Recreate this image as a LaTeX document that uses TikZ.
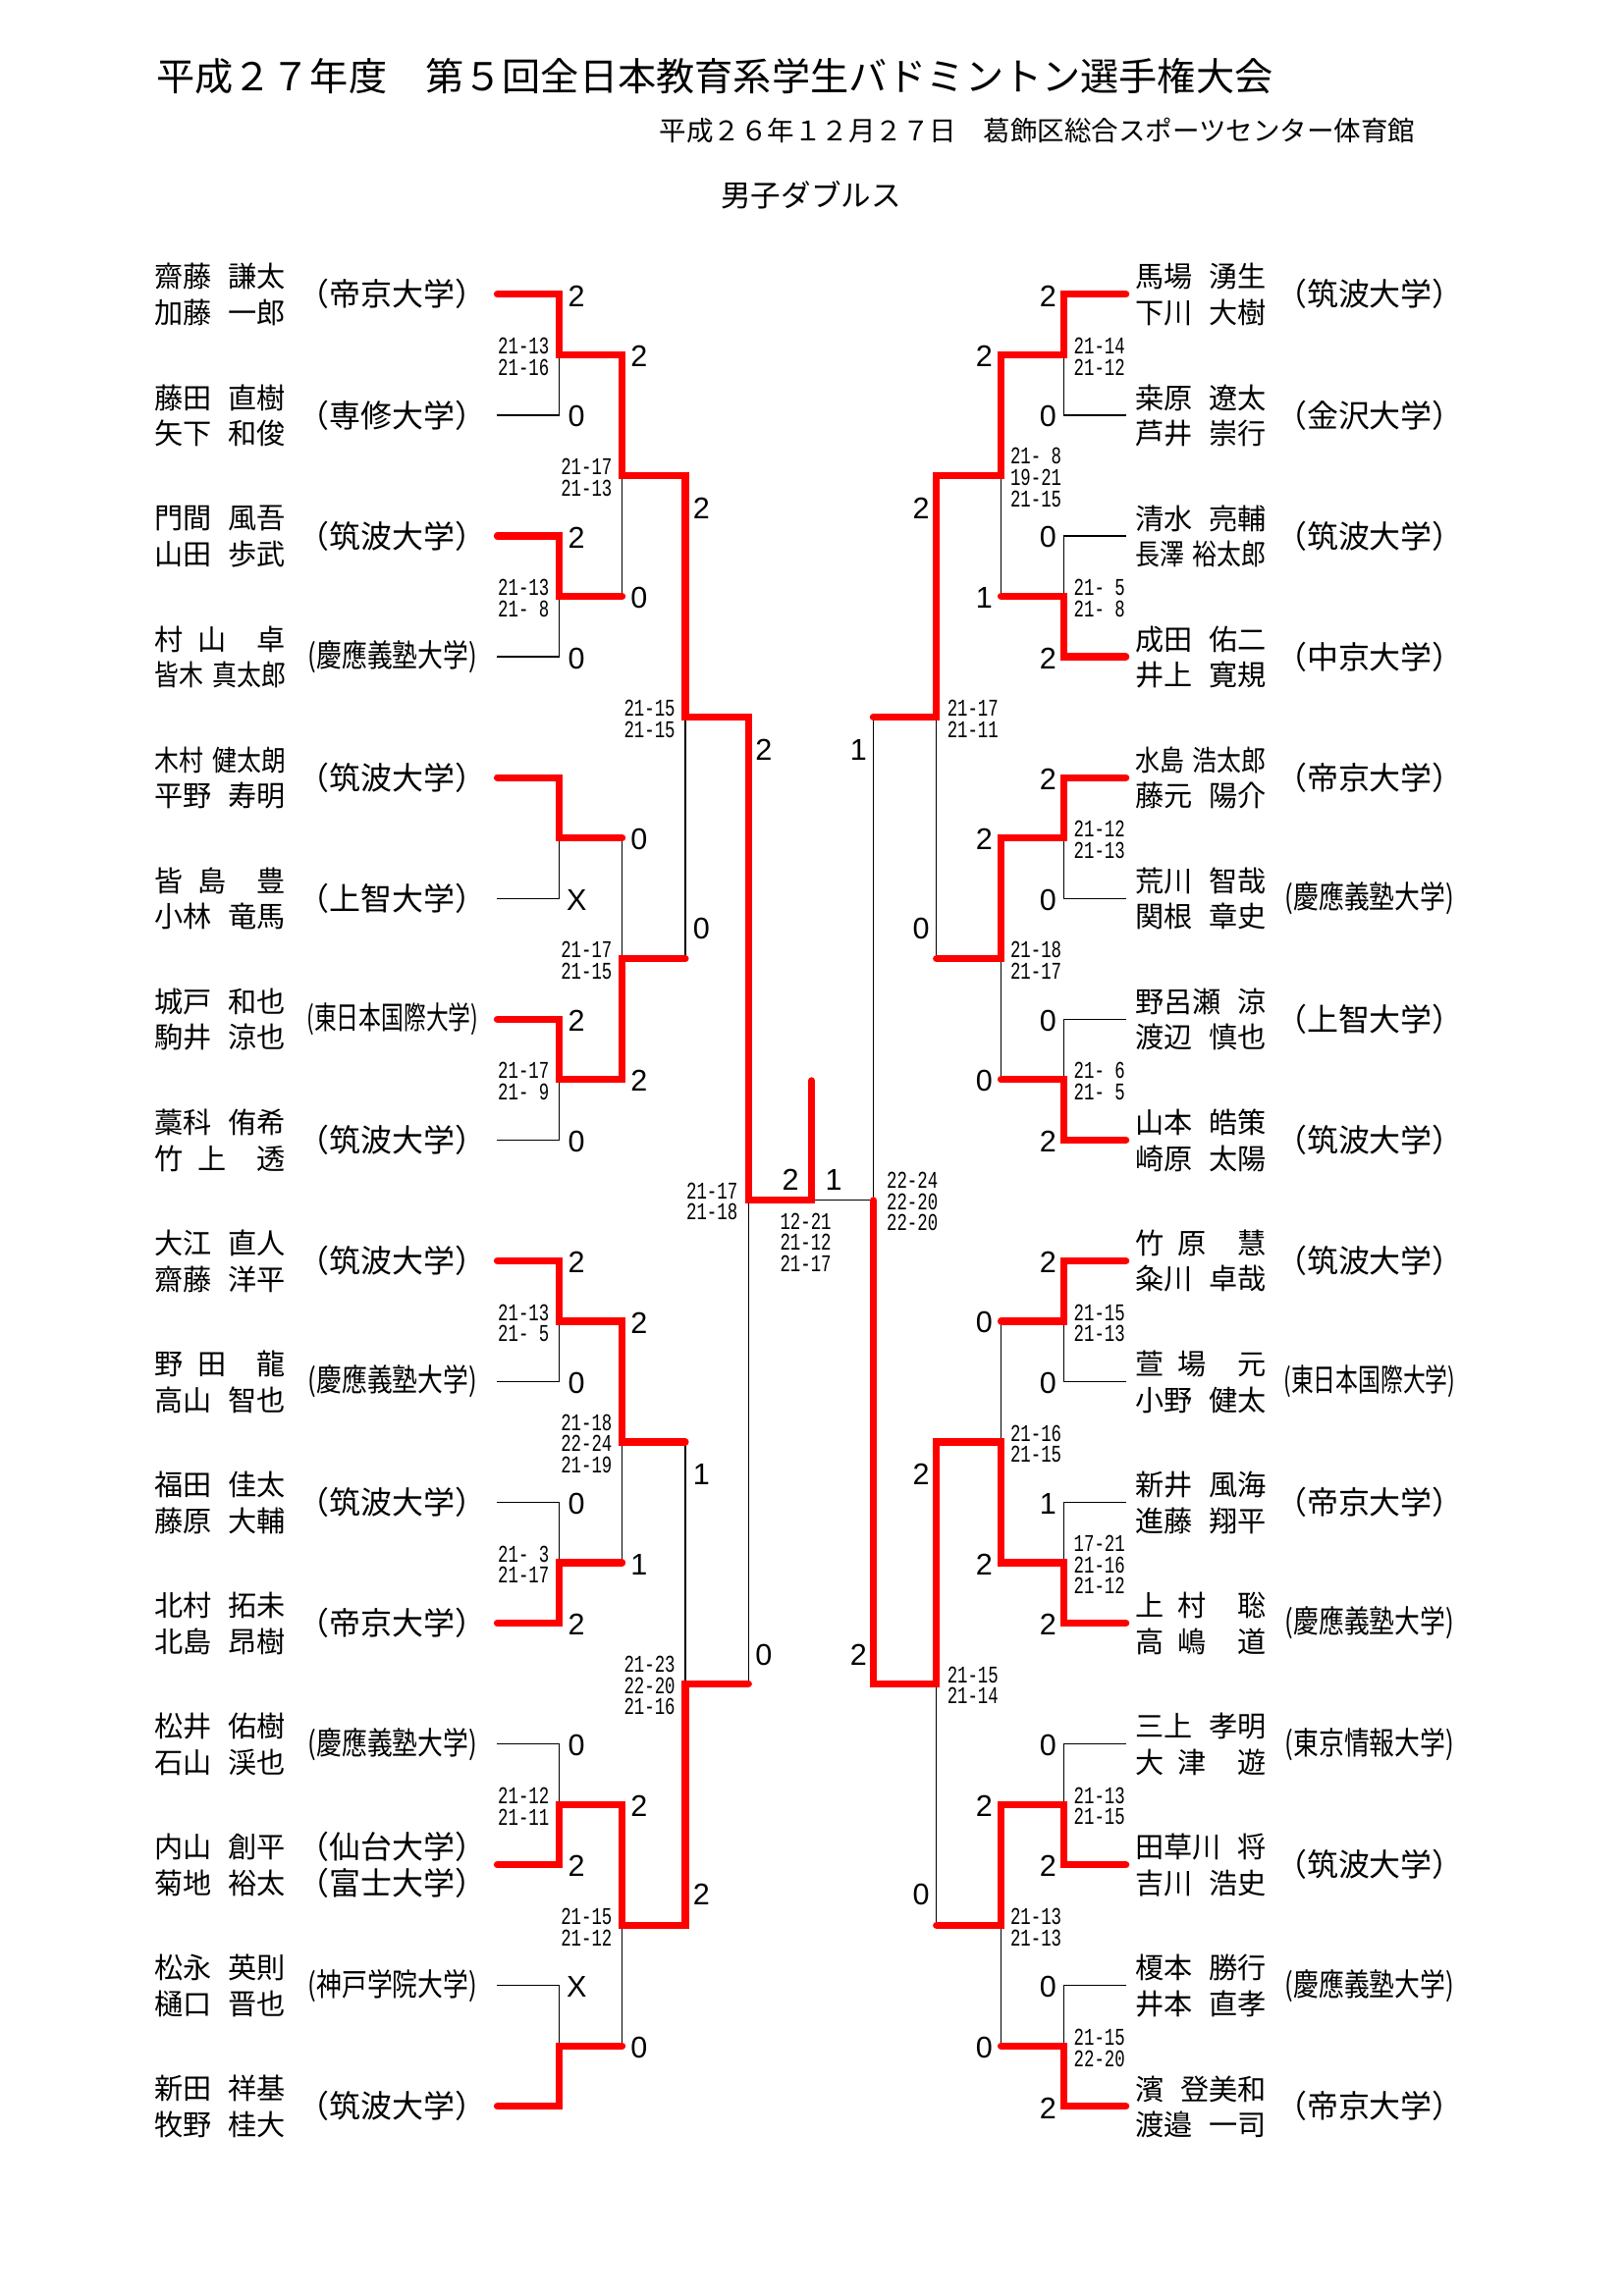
\documentclass[tikz,border=0pt]{standalone}
\usepackage{fontspec}
\usepackage{graphicx}
\newfontfamily\jp{Noto Sans CJK JP}
\newfontfamily\arl{Liberation Sans}
\newfontfamily\scf[FakeStretch=0.71]{Liberation Mono}
\newcommand\nm[2]{\makebox[48pt]{#1\hfill#2}}
\newcommand\nmc[2]{\resizebox{48pt}{\height}{#1\hspace{0.35em}#2}}
\newcommand\gp{\hspace{0.5em}}
\newcommand\un[1]{（#1）}
\newcommand\unc[2][62pt]{\resizebox{#1}{\height}{(#2)}}
\newcommand\zz{\phantom{0}}
\newcommand\LT[4]{%
  \pgfmathsetmacro\ty{201+82.5*(#1-1)}%
  \node[nmst] (lna#1) at (107.5,\ty-12) {#2};%
  \node[nmst] (lnb#1) at (107.5,\ty+12.5) {#3};%
  \node[unst] (lu#1) at (269.7,\ty) {#4};%
}
\newcommand\RT[4]{%
  \pgfmathsetmacro\ty{201+82.5*(#1-1)}%
  \node[nmst] (rna#1) at (775,\ty-12) {#2};%
  \node[nmst] (rnb#1) at (775,\ty+12.5) {#3};%
  \node[unst] (ru#1) at (935,\ty) {#4};%
}
\begin{document}
\begin{tikzpicture}[x=0.5384pt,y=-0.53692pt,
  rd/.style={draw=red,line width=2.6pt,line cap=round,line join=miter},
  bk/.style={draw=black,line width=0.45pt},
  lab/.style={font=\arl\fontsize{11}{12}\selectfont,inner sep=0pt},
  scl/.style={font=\scf\fontsize{8.8}{7.8}\selectfont,inner sep=0pt,align=right,anchor=east},
  scr/.style={font=\scf\fontsize{8.8}{7.8}\selectfont,inner sep=0pt,align=left,anchor=west},
  scc/.style={font=\scf\fontsize{8.8}{7.8}\selectfont,inner sep=0pt,align=center},
  nmst/.style={font=\jp\fontsize{10.5}{12}\selectfont,inner sep=0pt,anchor=west},
  unst/.style={font=\jp\fontsize{11.5}{13}\selectfont,inner sep=0pt},
  ttl/.style={font=\jp\fontsize{14.1}{16}\selectfont,inner sep=0pt,anchor=west},
  sub/.style={font=\jp\fontsize{9.9}{12}\selectfont,inner sep=0pt,anchor=west},
  evt/.style={font=\jp\fontsize{11}{13}\selectfont,inner sep=0pt,anchor=west},
]
\fill[white] (2.41,0) rectangle (1108.06,1568.0);
\useasboundingbox (2.41,0) rectangle (1108.06,1568.0);

% ---------- headings
\node[ttl] (title) at (108.5,51.9) {平成２７年度　第５回全日本教育系学生バドミントン選手権大会};
\node[sub] (date) at (451,89) {平成２６年１２月２７日　葛飾区総合スポーツセンター体育館};
\node[evt] (event) at (493,133) {男子ダブルス};

% ---------- coordinates
\foreach \i in {1,...,16}{
  \pgfmathsetmacro\ty{201+82.5*(\i-1)}
  \coordinate (L0-\i) at (341,\ty);
  \coordinate (L1-\i) at (383,\ty);
  \coordinate (R0-\i) at (769,\ty);
  \coordinate (R1-\i) at (727,\ty);
}
\foreach \k in {1,...,8}{
  \pgfmathsetmacro\ty{242.25+165*(\k-1)}
  \coordinate (L1j-\k) at (383,\ty);
  \coordinate (L2-\k) at (426,\ty);
  \coordinate (R1j-\k) at (727,\ty);
  \coordinate (R2-\k) at (684,\ty);
}
\foreach \m in {1,...,4}{
  \pgfmathsetmacro\ty{324.75+330*(\m-1)}
  \coordinate (L2j-\m) at (426,\ty);
  \coordinate (L3-\m) at (469,\ty);
  \coordinate (R2j-\m) at (684,\ty);
  \coordinate (R3-\m) at (640,\ty);
}
\foreach \n in {1,2}{
  \pgfmathsetmacro\ty{489.75+660*(\n-1)}
  \coordinate (L3j-\n) at (469,\ty);
  \coordinate (L4-\n) at (512,\ty);
  \coordinate (R3j-\n) at (640,\ty);
  \coordinate (R4-\n) at (597,\ty);
}
\coordinate (L4j) at (512,819.75);
\coordinate (R4j) at (597,819.75);
\coordinate (F) at (555,819.75);
\coordinate (Fup) at (555,738);

% ---------- thin (losing) lines
\draw[bk] (L0-2)--(L1-2)--(L1j-1);
\draw[bk] (L0-4)--(L1-4)--(L1j-2);
\draw[bk] (L0-6)--(L1-6)--(L1j-3);
\draw[bk] (L0-8)--(L1-8)--(L1j-4);
\draw[bk] (L0-10)--(L1-10)--(L1j-5);
\draw[bk] (L0-11)--(L1-11)--(L1j-6);
\draw[bk] (L0-13)--(L1-13)--(L1j-7);
\draw[bk] (L0-15)--(L1-15)--(L1j-8);
\draw[bk] (L2-2)--(L2j-1);
\draw[bk] (L2-3)--(L2j-2);
\draw[bk] (L2-6)--(L2j-3);
\draw[bk] (L2-8)--(L2j-4);
\draw[bk] (L3-2)--(L3j-1);
\draw[bk] (L3-3)--(L3j-2);
\draw[bk] (L4-2)--(L4j);

\draw[bk] (R0-2)--(R1-2)--(R1j-1);
\draw[bk] (R0-3)--(R1-3)--(R1j-2);
\draw[bk] (R0-6)--(R1-6)--(R1j-3);
\draw[bk] (R0-7)--(R1-7)--(R1j-4);
\draw[bk] (R0-10)--(R1-10)--(R1j-5);
\draw[bk] (R0-11)--(R1-11)--(R1j-6);
\draw[bk] (R0-13)--(R1-13)--(R1j-7);
\draw[bk] (R0-15)--(R1-15)--(R1j-8);
\draw[bk] (R2-2)--(R2j-1);
\draw[bk] (R2-4)--(R2j-2);
\draw[bk] (R2-5)--(R2j-3);
\draw[bk] (R2-8)--(R2j-4);
\draw[bk] (R3-2)--(R3j-1);
\draw[bk] (R3-4)--(R3j-2);
\draw[bk] (R4-1)--(R4j);
\draw[bk] (R4j)--(F);

% ---------- red (winning) lines
\draw[rd] (L0-1)--(L1-1)--(L1j-1)--(L2-1)--(L2j-1)--(L3-1)--(L3j-1)--(L4-1)--(L4j)--(F)--(Fup);
\draw[rd] (L0-3)--(L1-3)--(L1j-2)--(L2-2);
\draw[rd] (L0-5)--(L1-5)--(L1j-3)--(L2-3);
\draw[rd] (L0-7)--(L1-7)--(L1j-4)--(L2-4)--(L2j-2)--(L3-2);
\draw[rd] (L0-9)--(L1-9)--(L1j-5)--(L2-5)--(L2j-3)--(L3-3);
\draw[rd] (L0-12)--(L1-12)--(L1j-6)--(L2-6);
\draw[rd] (L0-14)--(L1-14)--(L1j-7)--(L2-7)--(L2j-4)--(L3-4)--(L3j-2)--(L4-2);
\draw[rd] (L0-16)--(L1-16)--(L1j-8)--(L2-8);

\draw[rd] (R0-1)--(R1-1)--(R1j-1)--(R2-1)--(R2j-1)--(R3-1)--(R3j-1)--(R4-1);
\draw[rd] (R0-4)--(R1-4)--(R1j-2)--(R2-2);
\draw[rd] (R0-5)--(R1-5)--(R1j-3)--(R2-3)--(R2j-2)--(R3-2);
\draw[rd] (R0-8)--(R1-8)--(R1j-4)--(R2-4);
\draw[rd] (R0-9)--(R1-9)--(R1j-5)--(R2-5);
\draw[rd] (R0-12)--(R1-12)--(R1j-6)--(R2-6)--(R2j-3)--(R3-3)--(R3j-2)--(R4-2)--(R4j);
\draw[rd] (R0-14)--(R1-14)--(R1j-7)--(R2-7)--(R2j-4)--(R3-4);
\draw[rd] (R0-16)--(R1-16)--(R1j-8)--(R2-8);

% ---------- result labels
\foreach \i/\v in {1/2,2/0,3/2,4/0,6/X,7/2,8/0,9/2,10/0,11/0,12/2,13/0,14/2,15/X}{
  \pgfmathsetmacro\ty{202+82.5*(\i-1)}
  \node[lab] (la1-\i) at (395,\ty) {\v};
}
\foreach \i/\v in {1/2,2/0,3/0,4/2,5/2,6/0,7/0,8/2,9/2,10/0,11/1,12/2,13/0,14/2,15/0,16/2}{
  \pgfmathsetmacro\ty{202+82.5*(\i-1)}
  \node[lab] (ra1-\i) at (716,\ty) {\v};
}
\foreach \k/\v in {1/2,2/0,3/0,4/2,5/2,6/1,7/2,8/0}{
  \pgfmathsetmacro\ty{243.25+165*(\k-1)}
  \node[lab] (la2-\k) at (437.5,\ty) {\v};
}
\foreach \k/\v in {1/2,2/1,3/2,4/0,5/0,6/2,7/2,8/0}{
  \pgfmathsetmacro\ty{243.25+165*(\k-1)}
  \node[lab] (ra2-\k) at (672.5,\ty) {\v};
}
\node[lab] (la3-1) at (480,347) {2};
\node[lab] (la3-2) at (480,634) {0};
\node[lab] (la3-3) at (480,1007) {1};
\node[lab] (la3-4) at (480,1294) {2};
\node[lab] (ra3-1) at (629.5,347) {2};
\node[lab] (ra3-2) at (629.5,634) {0};
\node[lab] (ra3-3) at (629.5,1007) {2};
\node[lab] (ra3-4) at (629.5,1294) {0};
\node[lab] (la4-1) at (522.5,512) {2};
\node[lab] (la4-2) at (522.5,1130) {0};
\node[lab] (ra4-1) at (587,512) {1};
\node[lab] (ra4-2) at (587,1130) {2};
\node[lab] (fl) at (540.6,805.5) {2};
\node[lab] (fr) at (570,805.5) {1};

% ---------- game scores
\node[scl] (sl1-1) at (376.7,243.5) {21-13\\21-16};
\node[scl] (sl1-2) at (376.7,408.5) {21-13\\21-\zz8};
\node[scl] (sl1-4) at (376.7,738.5) {21-17\\21-\zz9};
\node[scl] (sl1-5) at (376.7,903.5) {21-13\\21-\zz5};
\node[scl] (sl1-6) at (376.7,1068.5) {21-\zz3\\21-17};
\node[scl] (sl1-7) at (376.7,1233.5) {21-12\\21-11};
\node[scl] (sl2-1) at (419.5,326) {21-17\\21-13};
\node[scl] (sl2-2) at (419.5,656) {21-17\\21-15};
\node[scl] (sl2-3) at (419.5,986) {21-18\\22-24\\21-19};
\node[scl] (sl2-4) at (419.5,1316) {21-15\\21-12};
\node[scl] (sl3-1) at (462.5,491) {21-15\\21-15};
\node[scl] (sl3-2) at (462.5,1151) {21-23\\22-20\\21-16};
\node[scl] (sl4) at (505,820.5) {21-17\\21-18};
\node[scc] (sfin) at (551,848.5) {12-21\\21-12\\21-17};

\node[scr] (sr1-1) at (733.2,243.5) {21-14\\21-12};
\node[scr] (sr1-2) at (733.2,408.5) {21-\zz5\\21-\zz8};
\node[scr] (sr1-3) at (733.2,573.5) {21-12\\21-13};
\node[scr] (sr1-4) at (733.2,738.5) {21-\zz6\\21-\zz5};
\node[scr] (sr1-5) at (733.2,903.5) {21-15\\21-13};
\node[scr] (sr1-6) at (733.2,1068.5) {17-21\\21-16\\21-12};
\node[scr] (sr1-7) at (733.2,1233.5) {21-13\\21-15};
\node[scr] (sr1-8) at (733.2,1398.5) {21-15\\22-20};
\node[scr] (sr2-1) at (690,326) {21-\zz8\\19-21\\21-15};
\node[scr] (sr2-2) at (690,656) {21-18\\21-17};
\node[scr] (sr2-3) at (690,986) {21-16\\21-15};
\node[scr] (sr2-4) at (690,1316) {21-13\\21-13};
\node[scr] (sr3-1) at (647,491) {21-17\\21-11};
\node[scr] (sr3-2) at (647,1151) {21-15\\21-14};
\node[scr] (sr4) at (605.8,820.5) {22-24\\22-20\\22-20};

% ---------- left teams
\LT{1}{\nm{齋藤}{謙太}}{\nm{加藤}{一郎}}{\un{帝京大学}}
\LT{2}{\nm{藤田}{直樹}}{\nm{矢下}{和俊}}{\un{専修大学}}
\LT{3}{\nm{門間}{風吾}}{\nm{山田}{歩武}}{\un{筑波大学}}
\LT{4}{\nm{村\gp 山}{卓}}{\nmc{皆木}{真太郎}}{\unc{慶應義塾大学}}
\LT{5}{\nmc{木村}{健太朗}}{\nm{平野}{寿明}}{\un{筑波大学}}
\LT{6}{\nm{皆\gp 島}{豊}}{\nm{小林}{竜馬}}{\un{上智大学}}
\LT{7}{\nm{城戸}{和也}}{\nm{駒井}{涼也}}{\unc[63pt]{東日本国際大学}}
\LT{8}{\nm{藁科}{侑希}}{\nm{竹\gp 上}{透}}{\un{筑波大学}}
\LT{9}{\nm{大江}{直人}}{\nm{齋藤}{洋平}}{\un{筑波大学}}
\LT{10}{\nm{野\gp 田}{龍}}{\nm{高山}{智也}}{\unc{慶應義塾大学}}
\LT{11}{\nm{福田}{佳太}}{\nm{藤原}{大輔}}{\un{筑波大学}}
\LT{12}{\nm{北村}{拓未}}{\nm{北島}{昂樹}}{\un{帝京大学}}
\LT{13}{\nm{松井}{佑樹}}{\nm{石山}{渓也}}{\unc{慶應義塾大学}}
\node[nmst] (lna14) at (107.5,1261.5) {\nm{内山}{創平}};
\node[nmst] (lnb14) at (107.5,1286) {\nm{菊地}{裕太}};
\node[unst] (lu14a) at (269.7,1261.5) {\un{仙台大学}};
\node[unst] (lu14b) at (269.7,1286) {\un{富士大学}};
\LT{15}{\nm{松永}{英則}}{\nm{樋口}{晋也}}{\unc{神戸学院大学}}
\LT{16}{\nm{新田}{祥基}}{\nm{牧野}{桂大}}{\un{筑波大学}}

% ---------- right teams
\RT{1}{\nm{馬場}{湧生}}{\nm{下川}{大樹}}{\un{筑波大学}}
\RT{2}{\nm{桒原}{遼太}}{\nm{芦井}{崇行}}{\un{金沢大学}}
\RT{3}{\nm{清水}{亮輔}}{\nmc{長澤}{裕太郎}}{\un{筑波大学}}
\RT{4}{\nm{成田}{佑二}}{\nm{井上}{寛規}}{\un{中京大学}}
\RT{5}{\nmc{水島}{浩太郎}}{\nm{藤元}{陽介}}{\un{帝京大学}}
\RT{6}{\nm{荒川}{智哉}}{\nm{関根}{章史}}{\unc{慶應義塾大学}}
\RT{7}{\nm{野呂瀬}{涼}}{\nm{渡辺}{慎也}}{\un{上智大学}}
\RT{8}{\nm{山本}{皓策}}{\nm{崎原}{太陽}}{\un{筑波大学}}
\RT{9}{\nm{竹\gp 原}{慧}}{\nm{粂川}{卓哉}}{\un{筑波大学}}
\RT{10}{\nm{萱\gp 場}{元}}{\nm{小野}{健太}}{\unc[63pt]{東日本国際大学}}
\RT{11}{\nm{新井}{風海}}{\nm{進藤}{翔平}}{\un{帝京大学}}
\RT{12}{\nm{上\gp 村}{聡}}{\nm{高\gp 嶋}{道}}{\unc{慶應義塾大学}}
\RT{13}{\nm{三上}{孝明}}{\nm{大\gp 津}{遊}}{\unc{東京情報大学}}
\RT{14}{\nm{田草川}{将}}{\nm{吉川}{浩史}}{\un{筑波大学}}
\RT{15}{\nm{榎本}{勝行}}{\nm{井本}{直孝}}{\unc{慶應義塾大学}}
\RT{16}{\nm{濱}{登美和}}{\nm{渡邉}{一司}}{\un{帝京大学}}
\end{tikzpicture}
\end{document}
